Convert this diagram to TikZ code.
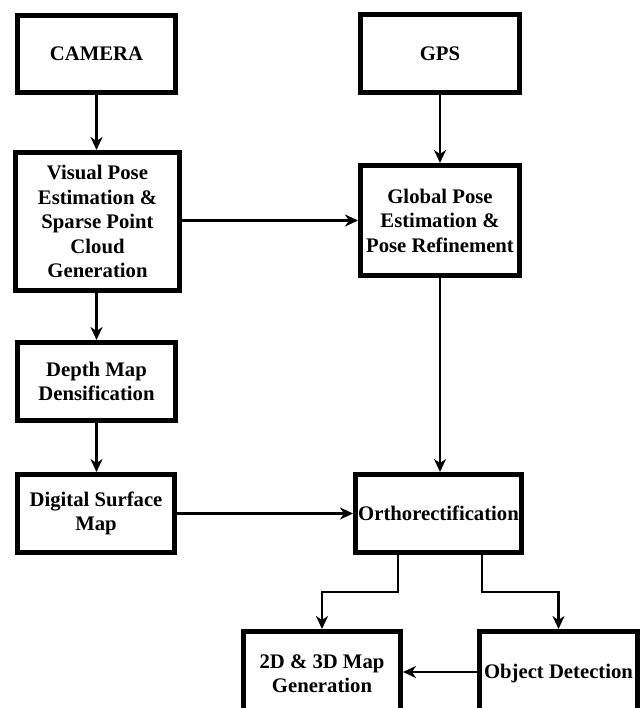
\documentclass[tikz,border=0pt]{standalone}
\usepackage{fontspec}
\setmainfont{Liberation Serif}
\usetikzlibrary{arrows.meta,calc}
\begin{document}
\begin{tikzpicture}[x=1pt,y=-1pt,
  box/.style={draw=black, line width=5pt, fill=white, inner sep=0pt, align=center,
    font=\fontsize{20.7}{24.5}\selectfont\bfseries},
  conn/.style={draw=black, line width=2.3pt, -{Stealth[length=13pt,width=12pt,inset=4pt]}}]
\clip (0,0) rectangle (641,708);
\fill[white] (0,0) rectangle (641,708);
\node[box, minimum width=158pt, minimum height=77pt] (cam) at (96.5,54) {CAMERA};
\node[box, minimum width=164pt, minimum height=138pt] (vis) at (97.5,221.5) {Visual Pose\\Estimation \&\\Sparse Point\\Cloud\\Generation};
\node[box, minimum width=159pt, minimum height=78pt] (gps) at (440,53.5) {GPS};
\node[box, minimum width=159pt, minimum height=110pt] (glob) at (440,220.5) {Global Pose\\Estimation \&\\Pose Refinement};
\node[box, minimum width=158pt, minimum height=78pt] (depth) at (96.5,381.5) {Depth Map\\Densification};
\node[box, minimum width=157pt, minimum height=78pt] (dsm) at (96,513.5) {Digital Surface\\Map};
\node[box, minimum width=166pt, minimum height=78pt] (ortho) at (438.5,513.5) {Orthorectification};
\node[box, minimum width=157pt, minimum height=84pt] (map) at (322,673.5) {2D \& 3D Map\\Generation};
\node[box, minimum width=158pt, minimum height=84pt] (obj) at (558.5,673.5) {Object Detection};
\coordinate (split) at (0,592);
\coordinate (o1) at ([xshift=-40.5pt]ortho.south);
\coordinate (o2) at ([xshift=43.5pt]ortho.south);
\draw[conn] (cam.south) -- (cam.south |- vis.north);
\draw[conn] (gps.south) -- (glob.north);
\draw[conn] (vis.east |- glob.west) -- (glob.west);
\draw[conn] (cam.south |- vis.south) -- (cam.south |- depth.north);
\draw[conn] (depth.south) -- (dsm.north -| depth.south);
\draw[conn] (glob.south) -- (glob.south |- ortho.north);
\draw[conn] (dsm.east) -- (ortho.west);
\draw[conn] (o1) -- (o1 |- split) -| (map.north);
\draw[conn] (o2) -- (o2 |- split) -| (obj.north);
\draw[conn] (obj.west |- 0,672) -- (map.east |- 0,672);
\end{tikzpicture}
\end{document}
